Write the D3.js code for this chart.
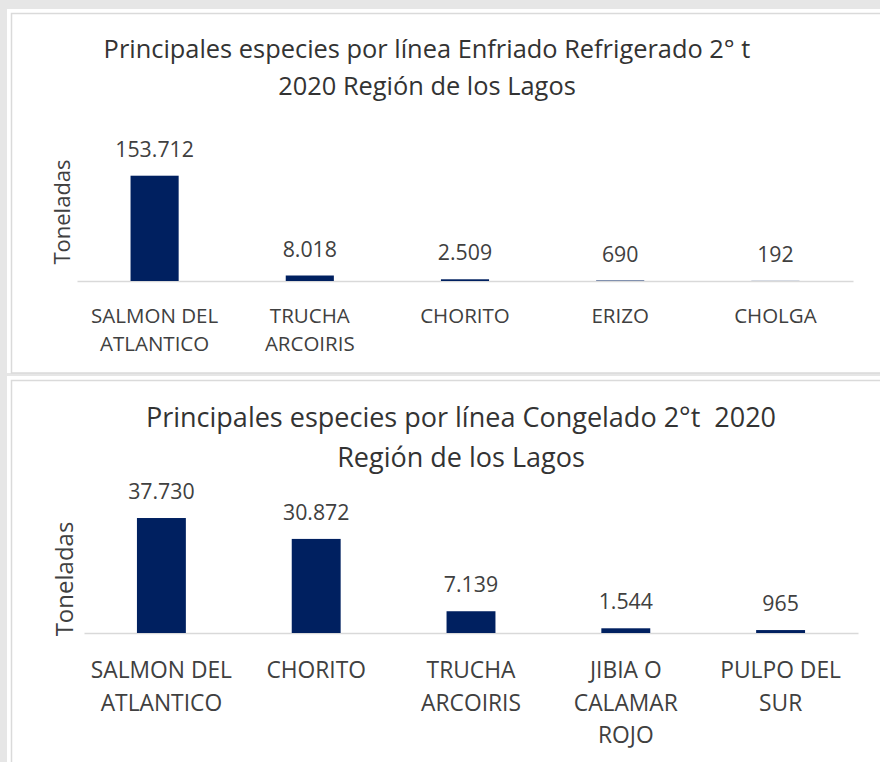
<!DOCTYPE html>
<html>
<head>
<meta charset="utf-8">
<script src="https://cdn.jsdelivr.net/npm/d3@7"></script>
<style>
  body { margin: 0; background: #e6e6e6; }
  svg { display: block; font-family: "Open Sans", sans-serif; }
  text { white-space: pre; }
</style>
</head>
<body>
<svg id="chart"></svg>
<script>
// datos
const enfriadoTitle = ["Principales especies por línea Enfriado Refrigerado 2° t", "2020 Región de los Lagos"];
const enfriadoCategories = ["SALMON DEL|ATLANTICO", "TRUCHA|ARCOIRIS", "CHORITO", "ERIZO", "CHOLGA"];
const enfriadoValues = [153712, 8018, 2509, 690, 192];

const congeladoTitle = ["Principales especies por línea Congelado 2°t  2020", "Región de los Lagos"];
const congeladoCategories = ["SALMON DEL|ATLANTICO", "CHORITO", "TRUCHA|ARCOIRIS", "JIBIA O|CALAMAR|ROJO", "PULPO DEL|SUR"];
const congeladoValues = [37730, 30872, 7139, 1544, 965];

const yLabel = "Toneladas";

const locale = d3.formatLocale({ decimal: ",", thousands: ".", grouping: [3], currency: ["$", ""] });
const fmt = locale.format(",d");

const svgWidth = 880, svgHeight = 762;
const svg = d3.select("#chart").attr("width", svgWidth).attr("height", svgHeight);

const drawChart = (cfg, title, categories, values) => {
  // panel
  svg.append("rect")
    .attr("x", 7).attr("y", cfg.panelY)
    .attr("width", svgWidth).attr("height", cfg.panelH)
    .attr("fill", "#fff");
  svg.append("rect")
    .attr("x", 11.5).attr("y", cfg.panelY + 4.5)
    .attr("width", svgWidth).attr("height", cfg.panelH - 4.5)
    .attr("fill", "none")
    .attr("stroke", "#dadada")
    .attr("stroke-width", 1.5);

  let data = categories.map((c, i) => ({ cat: c, value: values[i] }));

  let x = d3.scaleBand()
    .domain(categories)
    .range([cfg.x0, cfg.x1])
    .paddingInner(cfg.pad)
    .paddingOuter(cfg.pad / 2);

  let y = d3.scaleLinear()
    .domain([0, cfg.yMax])
    .range([cfg.base, cfg.base - cfg.yPx]);

  let g = svg.append("g");

  // titulo
  g.append("text")
    .attr("text-anchor", "middle")
    .attr("fill", "#333")
    .attr("font-size", cfg.titleSize)
    .selectAll("tspan")
    .data(title)
    .join("tspan")
    .attr("x", cfg.titleX)
    .attr("y", (d, i) => cfg.titleY[i])
    .text(d => d);

  // eje x
  let axis = g.append("g")
    .attr("transform", `translate(0,${cfg.base})`)
    .call(d3.axisBottom(x).tickSize(0).tickFormat(""));
  axis.select(".domain").attr("stroke", "#d9d9d9").attr("stroke-width", 1.3);
  axis.selectAll(".tick text")
    .attr("fill", "#404040")
    .attr("font-family", "Open Sans, sans-serif")
    .attr("font-size", cfg.catSize)
    .attr("y", 0)
    .attr("dy", null)
    .each(function(d) {
      d3.select(this).selectAll("tspan")
        .data(d.split("|"))
        .join("tspan")
        .attr("x", 0)
        .attr("y", (t, i) => cfg.catOff + i * cfg.catLH)
        .text(t => t);
    });

  // barras
  g.selectAll(".bar")
    .data(data)
    .join("rect")
    .attr("class", "bar")
    .attr("x", d => x(d.cat))
    .attr("width", x.bandwidth())
    .attr("y", d => y(d.value))
    .attr("height", d => cfg.base - y(d.value))
    .attr("fill", "#002060");

  // etiquetas
  g.selectAll(".lbl")
    .data(data)
    .join("text")
    .attr("class", "lbl")
    .attr("text-anchor", "middle")
    .attr("fill", "#404040")
    .attr("font-size", cfg.valueSize)
    .attr("x", d => x(d.cat) + x.bandwidth() / 2)
    .attr("y", d => y(d.value) - 19)
    .text(d => fmt(d.value));

  // eje y titulo
  g.append("text")
    .attr("text-anchor", "middle")
    .attr("fill", "#404040")
    .attr("font-size", cfg.yLabelSize)
    .attr("transform", `translate(${cfg.yLabelX},${cfg.yLabelY}) rotate(-90)`)
    .attr("dy", "0.35em")
    .text(yLabel);
};

drawChart({
  panelY: 9, panelH: 364, titleX: 427, titleY: [58, 95], titleSize: 25.4,
  x0: 77, x1: 853, pad: 0.69, base: 281, yMax: 160000, yPx: 109.6,
  valueSize: 21.3, catSize: 20.5, catOff: 42, catLH: 28,
  yLabelX: 62, yLabelY: 212, yLabelSize: 22
}, enfriadoTitle, enfriadoCategories, enfriadoValues);

drawChart({
  panelY: 376, panelH: 400, titleX: 461, titleY: [427, 467], titleSize: 27,
  x0: 84, x1: 858, pad: 0.684, base: 633, yMax: 40000, yPx: 121.9,
  valueSize: 21.3, catSize: 22.8, catOff: 45, catLH: 32.5,
  yLabelX: 65, yLabelY: 579, yLabelSize: 24
}, congeladoTitle, congeladoCategories, congeladoValues);
</script>
</body>
</html>
